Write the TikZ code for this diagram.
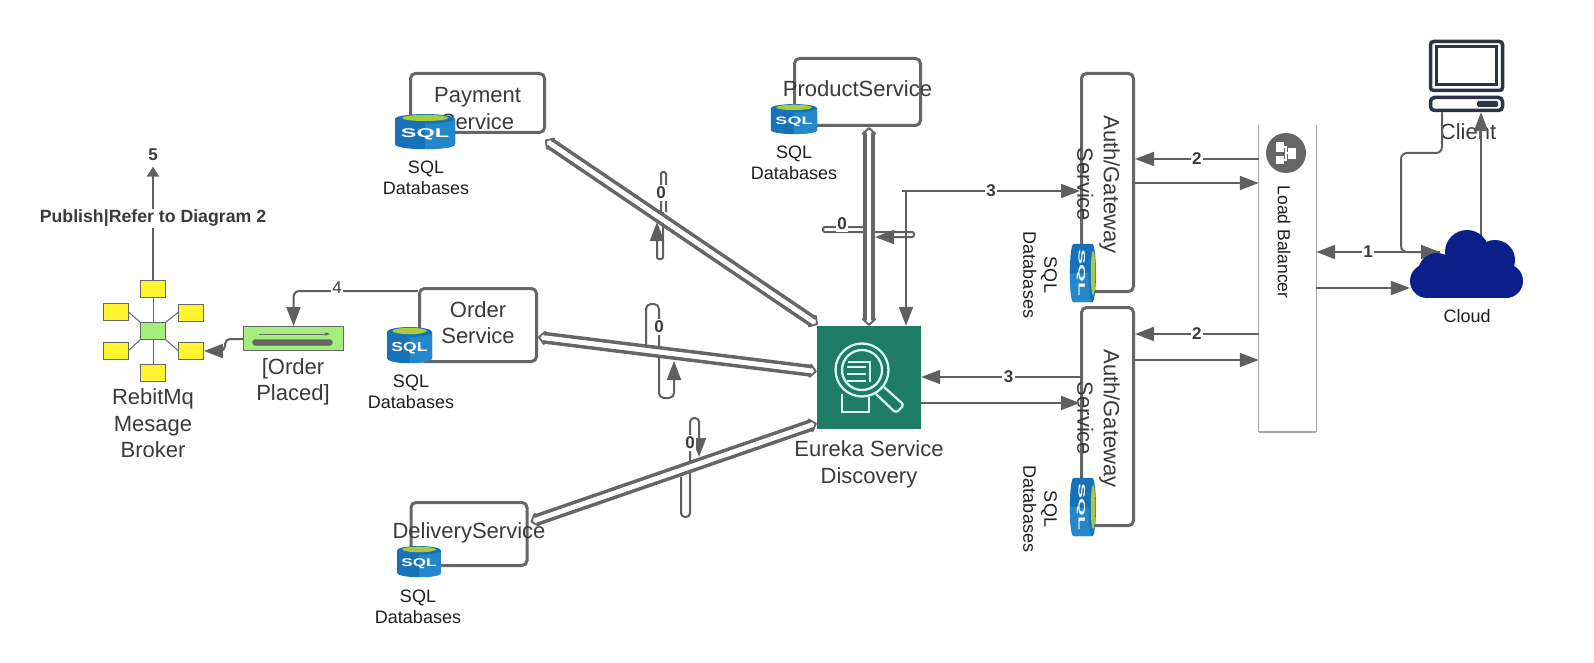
\documentclass[tikz,border=0pt]{standalone}
\usepackage{fontspec}
\setmainfont{Liberation Sans}
\usetikzlibrary{positioning,arrows.meta,calc}
\definecolor{CLINE}{HTML}{666666}
\definecolor{CARROW}{HTML}{5F5F5F}
\definecolor{CTEXT}{HTML}{3A3A3A}
\definecolor{CINK}{HTML}{1E1E1E}
\definecolor{CLB}{HTML}{A6A6A6}
\definecolor{CYEL}{HTML}{FFF42E}
\definecolor{CGRN}{HTML}{A3EE7C}
\definecolor{CEUR}{HTML}{1E7B66}
\definecolor{CICON}{HTML}{D7F7F0}
\definecolor{CNAVY}{HTML}{0B1F8A}
\definecolor{CPC}{HTML}{2B3442}
\definecolor{SQLA}{HTML}{1671B8}
\definecolor{SQLB}{HTML}{2487CC}
\definecolor{SQLG}{HTML}{A9CB3C}

\begin{document}
\begin{tikzpicture}[
  x=1pt, y=-1pt,
  % service box: text goes in a node of its own, it overflows on purpose
  svc/.style={draw=CLINE, line width=3, rounded corners=5pt, fill=white},
  % large label
  lbl/.style={font=\fontsize{22}{26.5}\selectfont, color=CTEXT, align=center, inner sep=0pt},
  % small label
  sml/.style={font=\fontsize{18}{21}\selectfont, color=CINK, align=center, inner sep=0pt},
  % number on a connector
  numl/.style={font=\fontsize{17}{19}\selectfont\bfseries, text=CTEXT, fill=white, inner sep=1.5pt},
  % arrows
  ar/.style={-{Triangle[length=19pt, width=14pt]}, color=CARROW, line width=2},
  ln/.style={color=CARROW, line width=2},
  dtip/.tip={Triangle[color=CLINE, fill=white, length=8pt, width=17pt, line width=2.6pt, round]},
  % hollow arrow, built from a thick grey line with a white one over it
  dbl/.style={dtip-dtip, draw=white, line width=4.6,
              preaction={draw=CLINE, line width=12, arrows=-, shorten >=5pt, shorten <=5pt},
              postaction={draw=white, line width=4.6, arrows=-, shorten >=4pt, shorten <=4pt}},
  spoke/.style={color=CLINE, line width=1},
  qbox/.style={draw=CLINE, line width=0.9, fill=CYEL, minimum width=25, minimum height=17},
  sqldb/.pic={
    \fill[SQLA] (-30,-13) -- (-30,13) .. controls (-30,20) and (30,20) .. (30,13) -- (30,-13) -- cycle;
    \fill[SQLB] (0,-13) -- (0,18) .. controls (14,18) and (30,17) .. (30,13) -- (30,-13) -- cycle;
    \fill[SQLA] (0,-13) ellipse [x radius=30, y radius=5];
    \fill[SQLG] (0,-14) ellipse [x radius=23, y radius=3.2];
    \node[transform shape, xscale=1.8, font=\fontsize{13}{13}\selectfont\bfseries, color=white, inner sep=0pt] (T) at (0,3) {SQL};
  },
]
\useasboundingbox (0,0) rectangle (1594,663);

% ---------- Service boxes ----------
\foreach \nm/\xx/\yy/\ww/\hh in {PAY/477.5/103/134/59, PRD/857.5/92/126/67, ORD/478/325/117/73,
    DEL/469/534/116/63, AU1/1107.5/182.5/52/218, AU2/1107.5/416.5/52/218}
  \node[svc, minimum width=\ww, minimum height=\hh] (\nm) at (\xx,\yy) {};

\node[lbl] (PAYT) at ($(PAY.center)+(0,5.5)$) {Payment\\Service};
\node[lbl] (PRDT) at ($(PRD.center)+(0,-3)$) {ProductService};
\node[lbl] (ORDT) at ($(ORD.center)+(0,-2.5)$) {Order\\Service};
\node[lbl] (DELT) at ($(DEL.center)+(0,-1)$) {DeliveryService};
\node[lbl, rotate=-90] (AU1T) at ($(AU1.center)+(-9,2)$) {Auth/Gateway\\Service};
\node[lbl, rotate=-90] (AU2T) at ($(AU2.center)+(-9,2)$) {Auth/Gateway\\Service};

% ---------- Databases ----------
\pic (DB1) [xscale=1, yscale=0.97] at (425,131.5) {sqldb};
\pic (DB2) [xscale=0.77, yscale=0.83] at (794,119) {sqldb};
\pic (DB3) [xscale=0.75, yscale=1] at (409.5,345) {sqldb};
\pic (DB4) [xscale=0.73, yscale=0.86] at (419,561.5) {sqldb};
\pic (DB5) [rotate=-90, xscale=0.97, yscale=0.72] at (1083,273) {sqldb};
\pic (DB6) [rotate=-90, xscale=0.97, yscale=0.72] at (1083,507) {sqldb};

\foreach \i/\xx/\yy in {1/426/177.5, 2/794/162.5, 3/411/391.5, 4/418/606.5}
  \node[sml] (SQ\i) at (\xx,\yy) {SQL\\Databases};
\node[sml, rotate=-90] (SQ5) at (1040,275) {SQL\\Databases};
\node[sml, rotate=-90] (SQ6) at (1040,509) {SQL\\Databases};

% ---------- Eureka ----------
\node[fill=CEUR, minimum width=104, minimum height=103, inner sep=0pt] (EUR) at (869,377.5) {};
\node[lbl] (EURT) at (869,464.5) {Eureka Service\\Discovery};
\begin{scope}[draw=CICON, line width=2.3]
  \draw (862,370) circle [radius=26.5];
  \draw (862,370) circle [radius=20];
  \draw (848,362) -- (870,362) -- (870,382);
  \foreach \yy in {367,374,381}
    \draw (847,\yy) -- (866,\yy);
  \draw (842,394) -- (842,412) -- (869,412) -- (869,397);
  \draw[rounded corners=3pt] (876,394) -- (896,413) -- (904,405) -- (884,387);
\end{scope}

% ---------- Self loops, under the double arrows ----------
\draw[ln, rounded corners=2pt] (661,215) -- (661,172) -- (666,172) -- (666,212);
\draw[ar, rounded corners=2pt] (663,212) -- (663,259) -- (657,259) -- (657,222);
\node[numl] (L1) at (661,193) {0};
\draw[ar, rounded corners=5pt] (646,347) -- (646,304) -- (659,304) -- (659,398) -- (674,398) -- (674,361);
\node[numl] (L2) at (659,327) {0};
\draw[ar, rounded corners=4pt] (681,477) -- (681,517) -- (690,517) -- (690,418) -- (699,418) -- (699,457);
\node[numl] (L3) at (690,443) {0};
\draw[ar, rounded corners=2pt] (867,227) -- (823,227) -- (823,232) -- (914,232) -- (914,237) -- (875,237);
\node[numl] (L4) at (842,224) {0};

% ---------- Double arrows to Eureka ----------
\draw[dbl] ($(PAY.south east)+(-1,6)$) -- ($(EUR.north west)+(1,-1)$);
\draw[dbl] (PRD.south -| EUR.north) -- (EUR.north);
\draw[dbl] ($(ORD.east)+(0,12)$) -- ($(EUR.west)+(0,-6)$);
\draw[dbl] ($(DEL.east)+(2,-12)$) -- ($(EUR.south west)+(0,-6)$);

% ---------- Broker ----------
\node[draw=CLINE, line width=0.9, fill=CGRN, minimum width=25, minimum height=17] (QC) at (153,331) {};
\foreach \nm/\xx/\yy in {Q1/153/289, Q2/115.5/312, Q3/191/312.5, Q4/115.5/350.5, Q5/191/350.5, Q6/153/372.5}
  \node[qbox] (\nm) at (\xx,\yy) {};
\foreach \nm/\aa/\bb in {Q1/south/north, Q2/east/north west, Q3/west/north east,
    Q4/east/south west, Q5/west/south east, Q6/north/south}
  \draw[spoke] (\nm.\aa) -- (QC.\bb);
\node[lbl] (QT) at (153,423.5) {RebitMq\\Mesage\\Broker};
\node[numl] (FIVE) at (153,155) {5};
\draw[ar, -{Triangle[length=10pt, width=12pt]}, shorten >=4pt] (Q1.north) -- (FIVE.south)
  node[numl, pos=0.525, font=\fontsize{17.7}{19}\selectfont\bfseries] (PUB) {Publish|Refer to Diagram 2};

\node[draw=CLINE, line width=0.9, fill=CGRN, minimum width=100, minimum height=24] (PLC) at (293.5,338.5) {};
\node[draw=CLINE, fill=CLINE, rounded corners=3pt, minimum width=80, minimum height=6, inner sep=0pt] (PIPE) at (292.5,342.5) {};
\draw[color=CLINE, line width=0.8, -{Triangle[length=5pt, width=3pt]}] (259,334) -- (330,334);
\node[lbl] (PLCT) at (293,382) {[Order\\Placed]};

\draw[ar, rounded corners=6pt] (ORD.north west |- 0,291) -- (PLC.north |- 0,291) -- (PLC.north);
\node[fill=white, inner sep=1pt, text=CTEXT, font=\fontsize{17}{17}\selectfont] (N4) at (337,288) {4};
\draw[ar, rounded corners=5pt] (PLC.west |- 0,339) -- (225,339) -- (225,351) -- (Q5.east |- 0,351);

% ---------- Eureka <-> Auth ----------
\coordinate (J3) at (906,191);
\draw[ar] (902,191) -- (AU1.west |- 0,191) node[numl, pos=0.5] (N3A) {3};
\draw[ar] (J3) -- (J3 |- EUR.north);
\draw[ar] (AU2.west |- 0,377) -- (EUR.east |- 0,377) node[numl, pos=0.45] (N3B) {3};
\draw[ar] (EUR.east |- 0,403) -- (AU2.west |- 0,403);

% ---------- Load balancer ----------
\node[minimum width=57, minimum height=307, inner sep=0pt] (LB) at (1287.5,278.5) {};
\draw[color=CLB, line width=1] (LB.north west) -- (LB.south west);
\draw[color=CLB, line width=1] (LB.north east) -- (LB.south east);
\draw[color=CLB, line width=2.5] (LB.south west) -- (LB.south east);
\node[circle, fill=CLINE, minimum size=40, inner sep=0pt] (LBI) at (1286,153) {};
\draw[white, line width=1.2] (1280,147) -- (1286,147) -- (1286,160) -- (1280,160);
\draw[white, line width=1.2] (1286,153) -- (1292,153);
\foreach \xx/\yy/\ww/\hh in {1280/147/8/10, 1280/160/8/8, 1292/153.5/8/11}
  \fill[white] (\xx-\ww/2,\yy-\hh/2) rectangle (\xx+\ww/2,\yy+\hh/2);
\node[sml, rotate=-90, font=\fontsize{17.5}{21}\selectfont] (LBT) at (1284,242) {Load Balancer};

\draw[ar] (LB.west |- 0,159) -- (AU1.east |- 0,159) node[numl, pos=0.5] (N2A) {2};
\draw[ar] (AU1.east |- 0,183) -- (LB.west |- 0,183);
\draw[ar] (LB.west |- 0,334) -- (AU2.east |- 0,334) node[numl, pos=0.5] (N2B) {2};
\draw[ar] (AU2.east |- 0,360) -- (LB.west |- 0,360);

% ---------- Client ----------
\node[draw=CPC, line width=3.5, rounded corners=3pt, minimum width=72, minimum height=49] (MON) at (1466.5,66) {};
\node[draw=CPC, line width=3, minimum width=60, minimum height=38] (SCR) at (1466.5,65.5) {};
\node[draw=CPC, line width=3.5, rounded corners=4pt, minimum width=72, minimum height=13] (BASE) at (1466.5,104) {};
\node[fill=CPC, rounded corners=1.5pt, minimum width=21, minimum height=6, inner sep=0pt] (SLOT) at (1487.5,104) {};
\node[lbl] (CLIT) at (1468,132) {Client};

% ---------- Cloud ----------
\node[minimum width=113, minimum height=68, inner sep=0pt] (CLD) at (1466.5,264) {};
\coordinate (CIN) at (1440,252);
\draw[ar] (CIN) -- (LB.east |- CIN) node[numl, pos=0.58] (N1) {1};
\draw[ar, rounded corners=6pt] (BASE.south -| 1442,0) -- (1442,153) -- (1401,153) -- (1401,252) -- (CIN);
\draw[ar] (LB.east |- 0,288) -- (CLD.west |- 0,288);
\draw[ar] (1481,240) -- (BASE.south -| 1481,0);
\foreach \xx/\yy/\rr in {1467/252/22, 1495/260/20, 1437/272/19, 1427/281/17, 1506/281/17}
  \fill[CNAVY] (\xx,\yy) circle [radius=\rr];
\fill[CNAVY] (1427,264) rectangle (1506,298);
\node[sml] (CLDT) at (1467,316) {Cloud};

\end{tikzpicture}
\end{document}
